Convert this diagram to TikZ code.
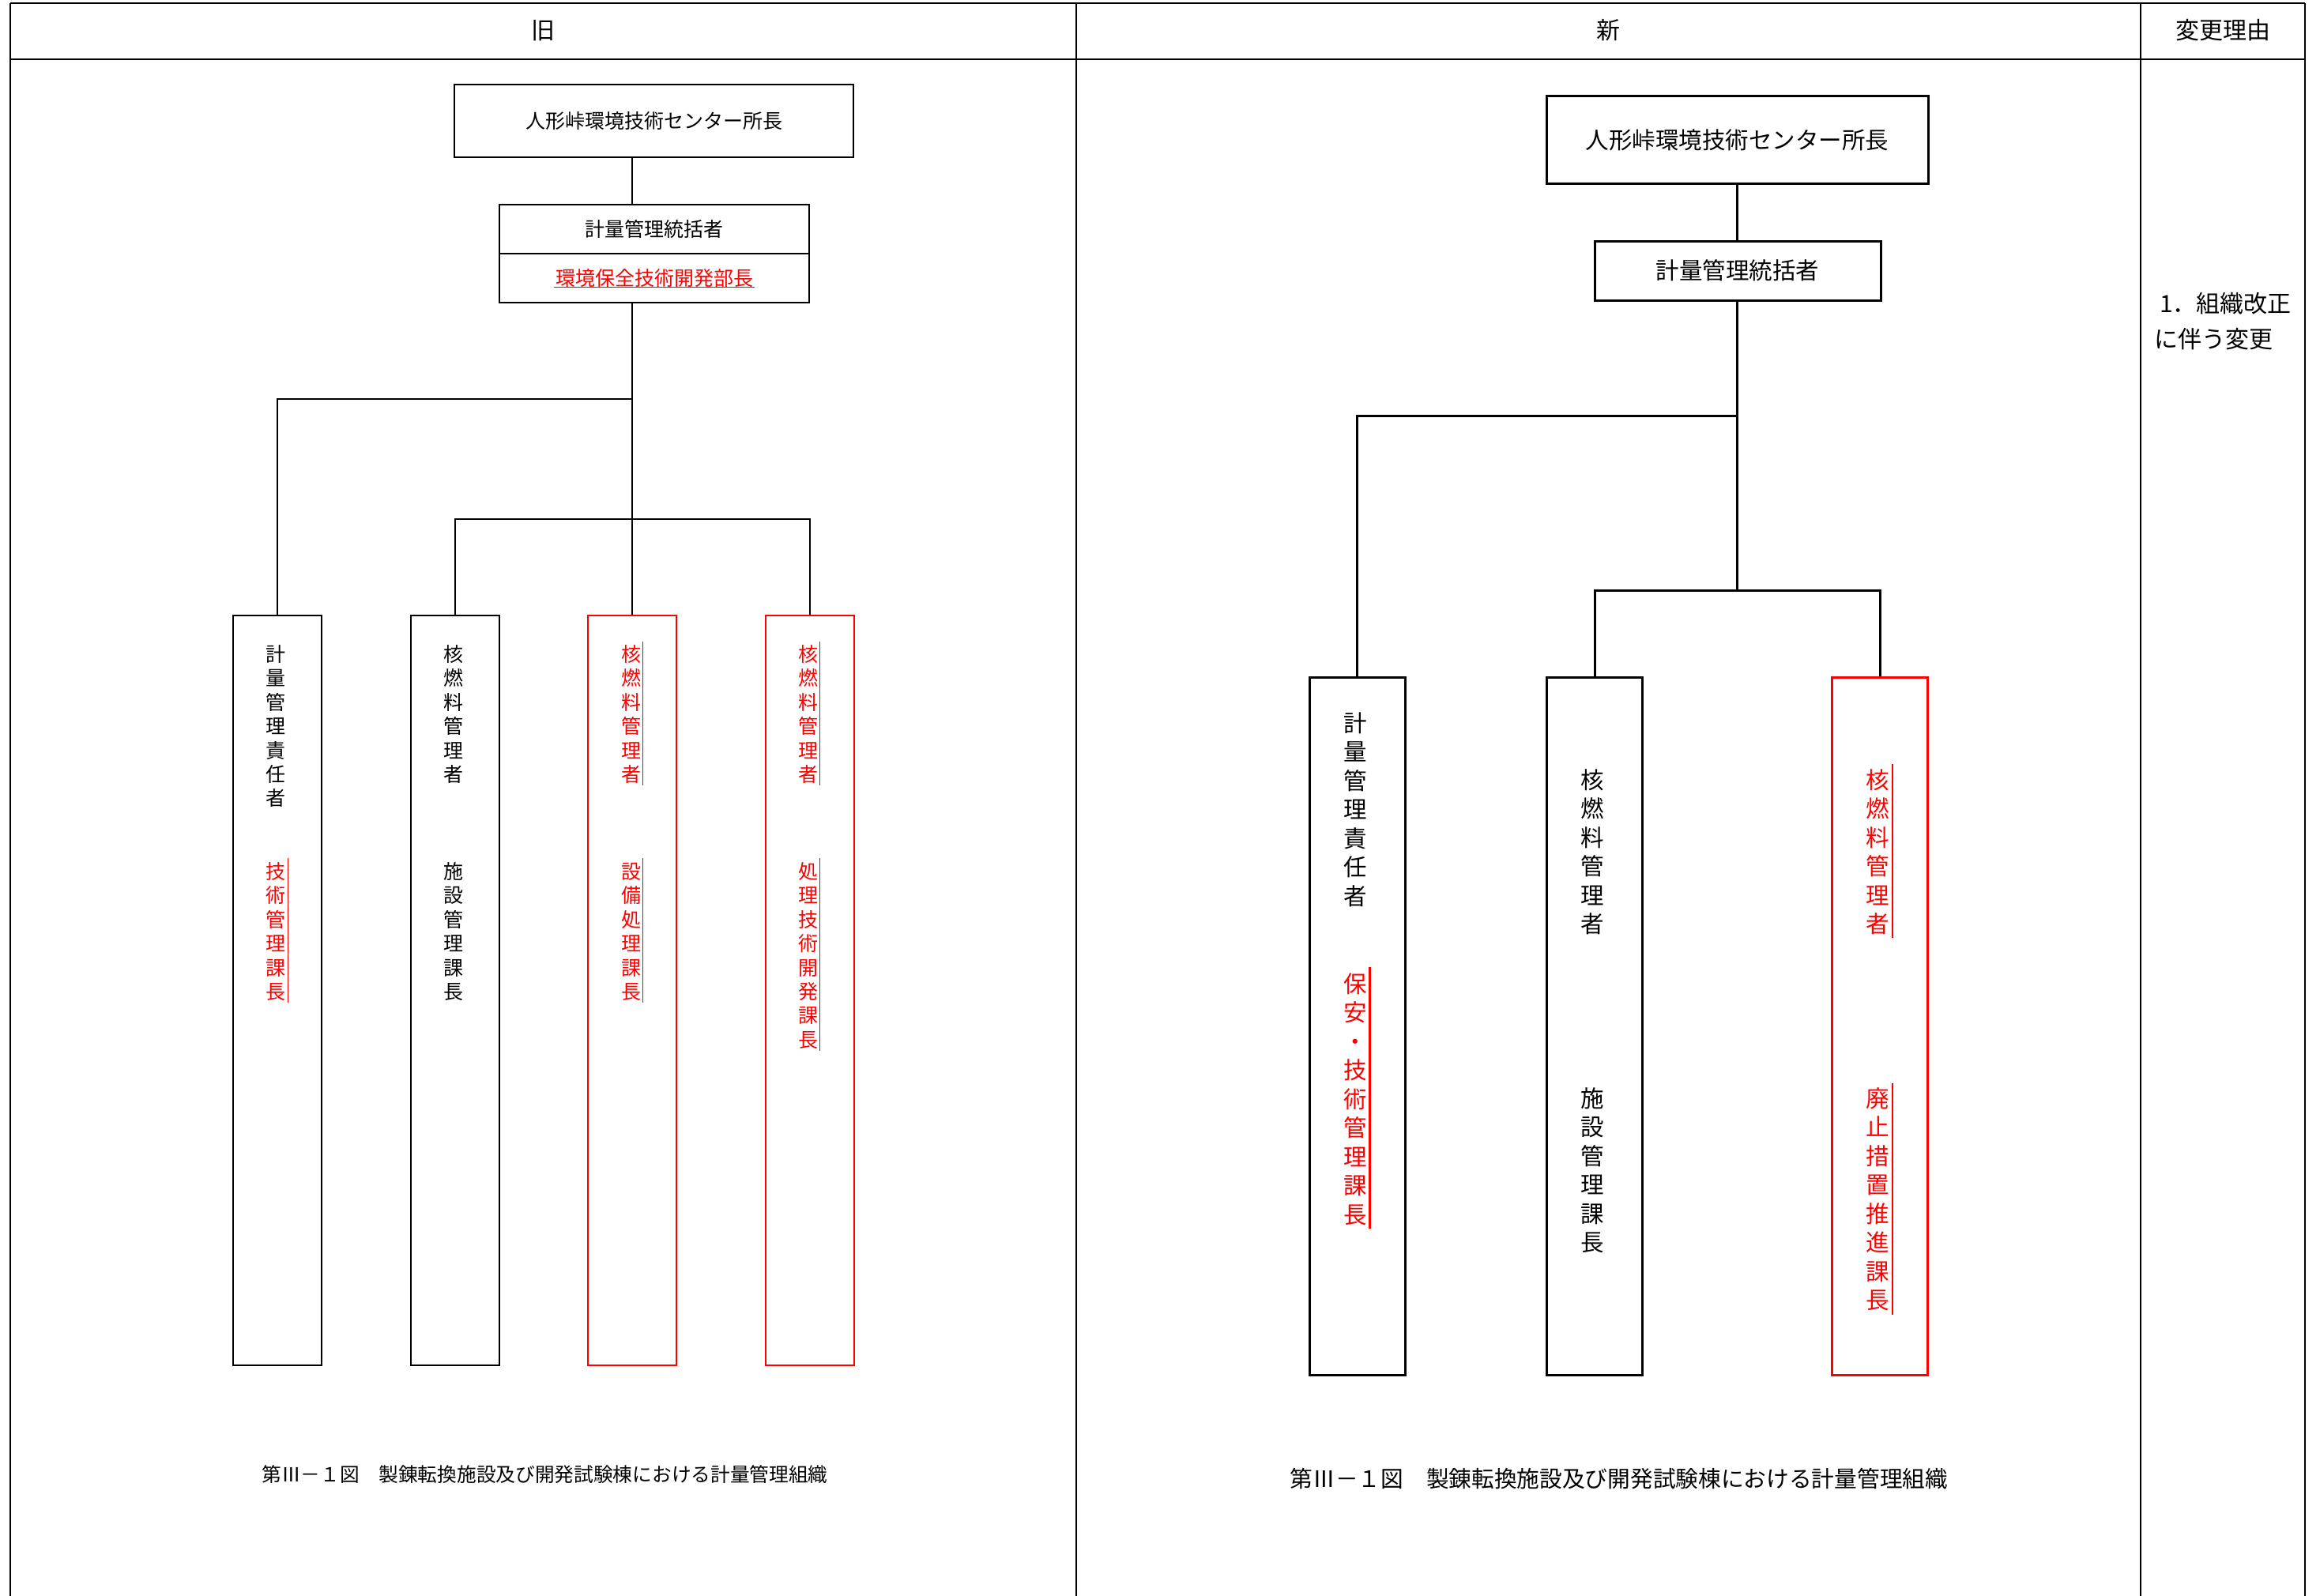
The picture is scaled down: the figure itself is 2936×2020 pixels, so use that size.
\documentclass[tikz,border=0pt]{standalone}
\usepackage{fontspec}
\setmainfont{Noto Sans CJK JP}
\definecolor{rd}{RGB}{255,0,0}
\tikzset{
  ot/.style={inner sep=0pt, font=\fontsize{25}{30}\selectfont, text height=22pt, text depth=3pt},
  nt/.style={inner sep=0pt, font=\fontsize{29.5}{36}\selectfont, text height=26pt, text depth=3.5pt},
  ht/.style={inner sep=0pt, font=\fontsize{30}{36}\selectfont, text height=26.4pt, text depth=3.6pt},
  ov/.style={ot},
  ovr/.style={ot, text=rd},
  nv/.style={nt},
  nvr/.style={nt, text=rd},
  obox/.style={draw, line width=2pt, inner sep=0pt},
  nbox/.style={draw, line width=3pt, inner sep=0pt},
  oline/.style={line width=2pt},
  nline/.style={line width=3pt},
  tline/.style={line width=2.5pt},
  sideo/.style={draw=rd, line width=1.6pt},
  siden/.style={draw=rd, line width=2.4pt},
}
\newcommand{\vcol}[6]{%
  \foreach \ch [count=\i from 0] in {#6} {\node[#1] (#2\i) at (#3, {#4+\i*#5}) {\ch};}}
\begin{document}
\begin{tikzpicture}[x=1pt,y=-1pt]
\useasboundingbox (0,0) rectangle (2936,2020);
% table
\draw[tline] (13,4) -- (2917,4);
\draw[tline] (13,75) -- (2917,75);
\draw[tline] (13,4) -- (13,2020);
\draw[tline] (1362,4) -- (1362,2020);
\draw[tline] (2709,4) -- (2709,2020);
\draw[tline] (2917,4) -- (2917,2020);
\node[ht] (hold) at (687.5,38) {旧};
\node[ht] (hnew) at (2035.5,38) {新};
\node[ht] (hrea) at (2813,38) {変更理由};
% reason
\node[ht, anchor=west] (r1) at (2733,384) {1．組織改正};
\node[ht, anchor=west] (r2) at (2726,429) {に伴う変更};

% ================= OLD =================
\node[obox, ot, minimum width=505pt, minimum height=92pt] (o1) at (827.5,153) {人形峠環境技術センター所長};
\node[obox, ot, minimum width=392pt, minimum height=62pt] (o2a) at (828,290) {計量管理統括者};
\node[obox, ot, text=rd, minimum width=392pt, minimum height=62pt] (o2b) at (828,352) {環境保全技術開発部長};
\draw[rd, line width=1.5pt] (o2b.center) ++(-127,11.5) -- ++(254,0);
\node[obox, minimum width=112pt, minimum height=949pt] (ob1) at (350.5,1253.5) {};
\node[obox, minimum width=112pt, minimum height=949pt] (ob2) at (575.5,1253.5) {};
\node[obox, draw=rd, minimum width=112pt, minimum height=949pt] (ob3) at (800,1253.5) {};
\node[obox, draw=rd, minimum width=112pt, minimum height=949pt] (ob4) at (1024.5,1253.5) {};
\coordinate (oj1) at (800,505);
\coordinate (oj2) at (800,657);
\draw[oline] (o1.south -| ob3.north) -- (o2a.north -| ob3.north);
\draw[oline] (o2b.south -| ob3.north) -- (ob3.north);
\draw[oline] (oj1) -| (ob1.north);
\draw[oline] (ob2.north) |- (oj2) -| (ob4.north);

\vcol{ov}{oa}{349}{828}{30.4}{計,量,管,理,責,任,者}
\vcol{ovr}{ob}{349}{1103}{30.4}{技,術,管,理,課,長}
\draw[sideo] (364.5,1086) -- (364.5,1269);
\vcol{ov}{oc}{574}{828}{30.4}{核,燃,料,管,理,者}
\vcol{ov}{od}{574}{1103}{30.4}{施,設,管,理,課,長}
\vcol{ovr}{oe}{798.5}{828}{30.4}{核,燃,料,管,理,者}
\draw[sideo] (813.5,812) -- (813.5,994);
\vcol{ovr}{of}{798.5}{1103}{30.4}{設,備,処,理,課,長}
\draw[sideo] (813.5,1086) -- (813.5,1269);
\vcol{ovr}{og}{1022.5}{828}{30.4}{核,燃,料,管,理,者}
\draw[sideo] (1037.5,812) -- (1037.5,994);
\vcol{ovr}{oh}{1022.5}{1103}{30.4}{処,理,技,術,開,発,課,長}
\draw[sideo] (1037.5,1086) -- (1037.5,1330);

\node[inner sep=0pt, font=\fontsize{24.7}{30}\selectfont, text height=21.7pt, text depth=3pt] (ocap) at (689.5,1866) {第Ⅲ－１図　製錬転換施設及び開発試験棟における計量管理組織};

% ================= NEW =================
\node[nbox, nt, minimum width=483pt, minimum height=110pt] (n1) at (2198.5,177) {人形峠環境技術センター所長};
\node[nbox, nt, minimum width=362pt, minimum height=75pt] (n2) at (2199,342.5) {計量管理統括者};
\node[nbox, minimum width=121pt, minimum height=883pt] (nb1) at (1717.5,1298.5) {};
\node[nbox, minimum width=121pt, minimum height=883pt] (nb2) at (2018,1298.5) {};
\node[nbox, draw=rd, minimum width=121pt, minimum height=883pt] (nb3) at (2379,1298.5) {};
\coordinate (nj1) at (2198.5,526);
\coordinate (nj2) at (2198.5,747);
\draw[nline] (n1.south) -- (n2.north -| n1.south);
\draw[nline] (n2.south -| n1.south) -- (nj2);
\draw[nline] (nj1) -| (nb1.north);
\draw[nline] (nb2.north) |- (nj2) -| (nb3.north);

\vcol{nv}{na}{1715}{915}{36.5}{計,量,管,理,責,任,者}
\vcol{nvr}{nb}{1715}{1245}{36.5}{保,安,・,技,術,管,理,課,長}
\draw[siden] (1733.5,1224) -- (1733.5,1555);
\vcol{nv}{nc}{2015.5}{987}{36.5}{核,燃,料,管,理,者}
\vcol{nv}{nd}{2015.5}{1390}{36.5}{施,設,管,理,課,長}
\vcol{nvr}{ne}{2376.5}{987}{36.5}{核,燃,料,管,理,者}
\draw[siden] (2395,967) -- (2395,1186.5);
\vcol{nvr}{nf}{2376.5}{1390}{36.5}{廃,止,措,置,推,進,課,長}
\draw[siden] (2395,1371) -- (2395,1664);

\node[inner sep=0pt, font=\fontsize{28.7}{34}\selectfont, text height=25.3pt, text depth=3.4pt] (ncap) at (2049,1872) {第Ⅲ－１図　製錬転換施設及び開発試験棟における計量管理組織};
\end{tikzpicture}
\end{document}
